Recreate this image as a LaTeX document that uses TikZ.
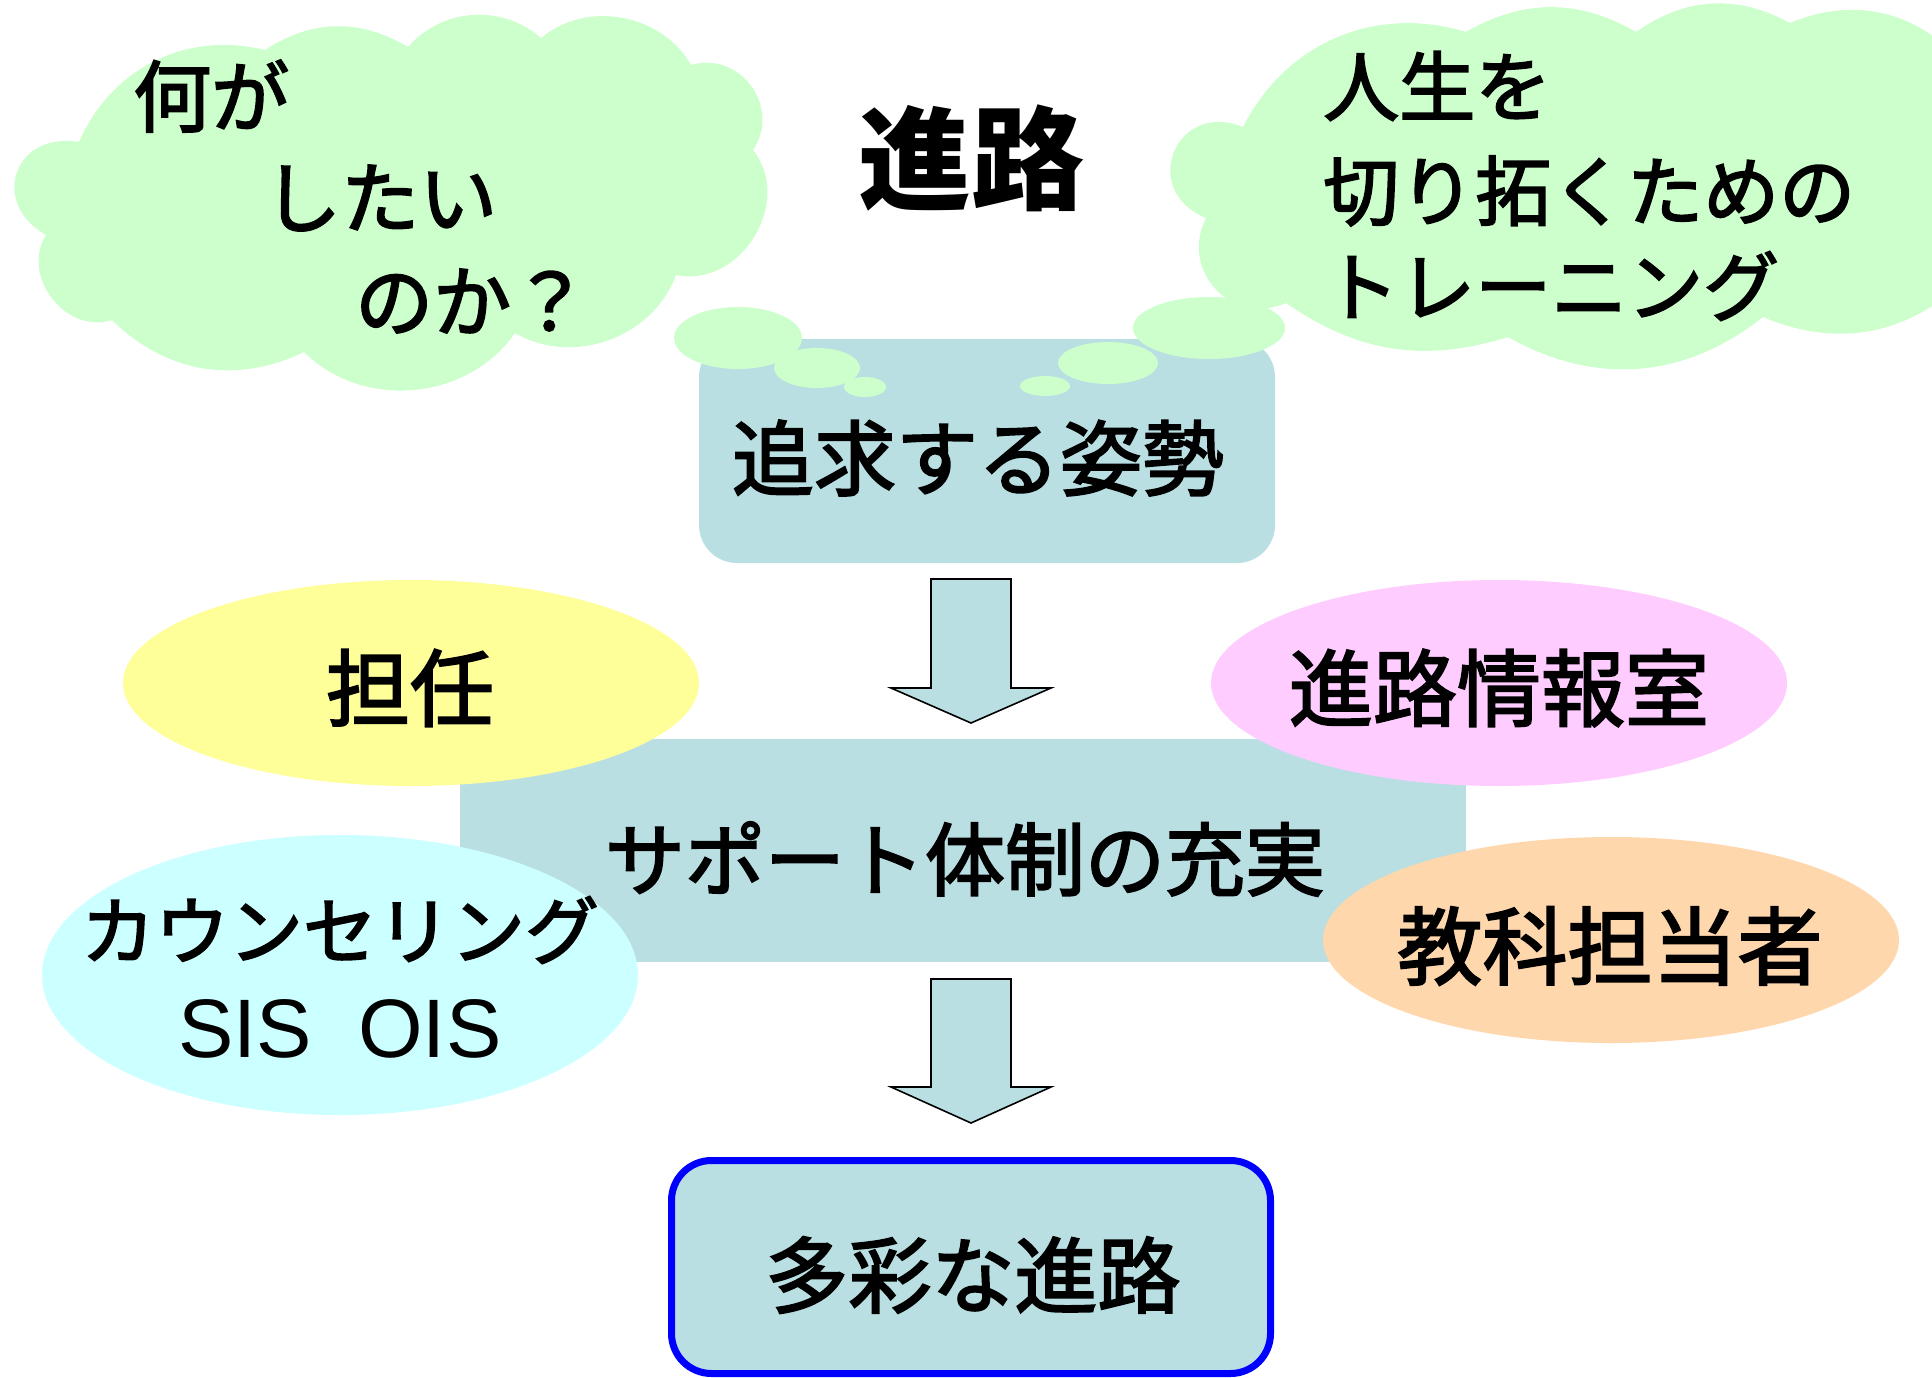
\documentclass[tikz,border=0pt]{standalone}
\usepackage{fontspec}
\setmainfont{Liberation Sans}
\newfontfamily\jp[FakeBold=2.4]{Noto Sans CJK JP}
\newfontfamily\jpbold{Noto Sans CJK JP}
\definecolor{boxblue}{HTML}{B9DFE2}
\definecolor{cloudgreen}{HTML}{CCFFCC}
\definecolor{ellyellow}{HTML}{FFFF99}
\definecolor{ellpink}{HTML}{FFCCFF}
\definecolor{ellcyan}{HTML}{CCFFFF}
\definecolor{ellpeach}{HTML}{FFD7AD}
\begin{document}
\begin{tikzpicture}[x=1pt,y=1pt,
  cloudshape/.style={fill=cloudgreen,draw=none},
  bubble/.style={fill=cloudgreen,draw=none},
  plainbox/.style={fill=boxblue,draw=none},
  blockarrow/.style={fill=boxblue,draw=black,line width=1.6pt,line join=miter},
  ovalshape/.style={draw=none},
  lbl/.style={inner sep=0pt,font=\jp\fontsize{82pt}{90pt}\selectfont},
  cloudtxt/.style={inner sep=0pt,anchor=west,font=\jp\fontsize{78pt}{86pt}\selectfont}]
\useasboundingbox (0,0) rectangle (1932,-1378);
\clip (0,0) rectangle (1932,-1378);
\fill[white] (0,0) rectangle (1932,-1378);
% clouds
\path[cloudshape] (79,-142) to[bend left=40] (265,-50) to[bend left=32] (408,-47)
  to[bend left=45] (541,-38) to[bend left=50] (691,-65)
  to[bend left=70,looseness=1.25] (753,-150) to[bend left=70,looseness=1.15] (676,-275)
  to[bend left=50] (515,-333) to[bend left=50] (304,-352) to[bend left=35] (112,-320)
  to[bend left=70,looseness=1.15] (46,-235) to[bend left=80,looseness=1.7] (79,-142) -- cycle;
\path[cloudshape] (1243,-127) to[bend left=40] (1466,-32) to[bend left=30] (1636,-32)
  to[bend left=32] (1790,-23) to[bend left=35] (1960,-60) -- (1960,-285)
  to[bend left=32] (1763,-317) to[bend left=34] (1508,-337) to[bend left=26] (1286,-303)
  to[bend left=70,looseness=1.3] (1206,-218) to[bend left=90,looseness=1.9] (1243,-127) -- cycle;
% top box
\node[plainbox,rounded corners=38pt,minimum width=576pt,minimum height=224pt,inner sep=0pt] (box1) at (987,-451) {};
% bubbles
\path[bubble] (738,-338) ellipse (64 and 31);
\path[bubble] (817,-368) ellipse (43 and 20);
\path[bubble] (865,-387) ellipse (21 and 10);
\path[bubble] (1209,-328) ellipse (76 and 31);
\path[bubble] (1108,-363) ellipse (50 and 21);
\path[bubble] (1045,-386) ellipse (25 and 10);
% title
\node[inner sep=0pt,font=\jpbold\bfseries\fontsize{113pt}{120pt}\selectfont] (title) at (971,-158) {進路};
% cloud texts
\node[cloudtxt] (c1) at (133,-96) {何が};
\node[cloudtxt] (c2) at (263,-198) {したい};
\node[cloudtxt] (c3) at (355,-301) {のか？};
\node[cloudtxt,font=\jp\fontsize{76pt}{84pt}\selectfont] (d1) at (1323,-86) {人生を};
\node[cloudtxt,font=\jp\fontsize{76pt}{84pt}\selectfont] (d2) at (1323,-191) {切り拓くための};
\node[cloudtxt,font=\jp\fontsize{76pt}{84pt}\selectfont] (d3) at (1323,-286) {トレーニング};
\node[lbl] (t1) at (978,-458) {追求する姿勢};
% arrow 1
\draw[blockarrow] (931,-579) -- (1011,-579) -- (1011,-688) -- (1051,-688) -- (971,-723) -- (891,-688) -- (931,-688) -- cycle;
% middle box
\node[plainbox,minimum width=1006pt,minimum height=223pt,inner sep=0pt] (box2) at (963,-850.5) {};
% ovals
\path[ovalshape,fill=ellyellow] (411,-683) ellipse (288 and 103);
\path[ovalshape,fill=ellpink] (1499,-683) ellipse (288 and 103);
\path[ovalshape,fill=ellcyan] (340,-975) ellipse (298 and 140);
\path[ovalshape,fill=ellpeach] (1611,-940) ellipse (288 and 103);
\node[lbl,font=\jp\fontsize{80pt}{88pt}\selectfont] (t2) at (965,-859) {サポート体制の充実};
\node[lbl,font=\jp\fontsize{84pt}{90pt}\selectfont] (e1) at (410,-688) {担任};
\node[lbl,font=\jp\fontsize{84pt}{90pt}\selectfont] (e2) at (1499,-688) {進路情報室};
\node[lbl,font=\jp\fontsize{74pt}{80pt}\selectfont] (e3) at (340,-930) {カウンセリング};
\node[inner sep=0pt,font=\fontsize{83pt}{90pt}\selectfont] (e3b) at (340,-1029) {SIS~~OIS};
\node[lbl,font=\jp\fontsize{85pt}{90pt}\selectfont] (e4) at (1610,-946) {教科担当者};
% arrow 2
\draw[blockarrow] (931,-979) -- (1011,-979) -- (1011,-1087) -- (1051,-1087) -- (971,-1123) -- (891,-1087) -- (931,-1087) -- cycle;
% bottom box
\node[fill=boxblue,draw=blue,line width=7pt,rounded corners=40pt,minimum width=599pt,minimum height=213pt,inner sep=0pt] (box3) at (971,-1267) {};
\node[lbl,font=\jp\fontsize{83pt}{90pt}\selectfont] (t3) at (973,-1275) {多彩な進路};
\end{tikzpicture}
\end{document}
